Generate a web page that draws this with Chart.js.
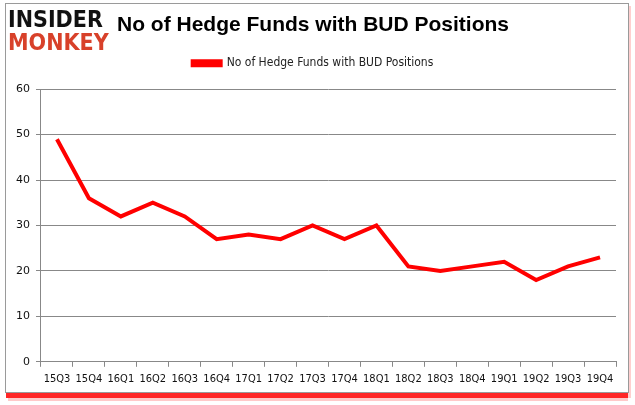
<!DOCTYPE html>
<html>
<head>
<meta charset="utf-8">
<script src="https://cdn.jsdelivr.net/npm/chart.js@4/dist/chart.umd.min.js"></script>
<style>
  html, body { margin: 0; padding: 0; background: #fff; }
  #wrap { width: 635px; height: 405px; }
</style>
</head>
<body>
<div id="wrap"><canvas id="chart"></canvas></div>
<script>
const quarters = ['15Q3', '15Q4', '16Q1', '16Q2', '16Q3', '16Q4', '17Q1', '17Q2', '17Q3',
                  '17Q4', '18Q1', '18Q2', '18Q3', '18Q4', '19Q1', '19Q2', '19Q3', '19Q4'];
const fundCounts = [49, 36, 32, 35, 32, 27, 28, 27, 30, 27, 30, 21, 20, 21, 22, 18, 21, 23];
const seriesName = 'No of Hedge Funds with BUD Positions';
const chartTitle = 'No of Hedge Funds with BUD Positions';

// frame, red shadow and logo drawn behind the chart
const framePlugin = {
    id: 'frame',
    beforeInit(chart) {
        // extra room between legend and plot
        const fit = chart.legend.fit;
        chart.legend.fit = function () {
            fit.call(this);
            this.height += 10;
        };
    },
    beforeDraw(chart) {
        const c = chart.ctx;
        c.save();
        c.fillStyle = '#fff';
        c.fillRect(0, 0, chart.width, chart.height);
        // red glow under the frame
        c.fillStyle = 'rgba(255, 0, 0, 0.85)';
        c.fillRect(6, 392, 622, 6);
        c.fillStyle = 'rgba(255, 120, 120, 0.4)';
        c.fillRect(8, 398, 620, 3);
        c.fillStyle = 'rgba(255, 160, 160, 0.5)';
        c.fillRect(628, 6, 3, 392);
        c.strokeStyle = '#9a9a9a';
        c.lineWidth = 1;
        c.strokeRect(5.5, 3.5, 623, 389);
        // logo
        c.textBaseline = 'alphabetic';
        c.font = 'bold 23px "DejaVu Sans Condensed"';
        c.fillStyle = '#111';
        c.fillText('INSIDER', 8, 27);
        c.fillStyle = '#d8412a';
        c.fillText('MONKEY', 8, 50);
        c.restore();
    }
};

new Chart(document.getElementById('chart'), {
    type: 'line',
    data: {
        labels: quarters,
        datasets: [{
            label: seriesName,
            data: fundCounts,
            borderColor: '#ff0000',
            backgroundColor: '#ff0000',
            borderWidth: 4,
            pointRadius: 0,
            tension: 0,
            fill: false
        }]
    },
    options: {
        responsive: true,
        maintainAspectRatio: false,
        animation: false,
        layout: { padding: { left: 10, right: 19, top: 6, bottom: 13 } },
        plugins: {
            title: {
                display: true,
                text: chartTitle,
                color: '#000',
                font: { family: 'Liberation Sans', size: 21, weight: 'bold' },
                padding: { top: 7, bottom: 9 }
            },
            legend: {
                position: 'top',
                labels: {
                    color: '#222',
                    font: { family: 'DejaVu Sans Condensed', size: 12 },
                    boxWidth: 28,
                    boxHeight: 4,
                    padding: 10
                }
            },
            tooltip: { enabled: false }
        },
        scales: {
            x: {
                offset: true,
                grid: { offset: true, drawOnChartArea: false, drawTicks: true, tickLength: 5, color: '#888' },
                border: { color: '#888' },
                ticks: { color: '#111', maxRotation: 0, autoSkip: false, padding: 6,
                         font: { family: 'DejaVu Sans Condensed', size: 11 } }
            },
            y: {
                min: 0,
                max: 60,
                ticks: { stepSize: 10, color: '#111', padding: 6,
                         font: { family: 'DejaVu Sans', size: 11 } },
                grid: { color: '#888', tickLength: 5 },
                border: { color: '#888' }
            }
        }
    },
    plugins: [framePlugin]
});
</script>
</body>
</html>
